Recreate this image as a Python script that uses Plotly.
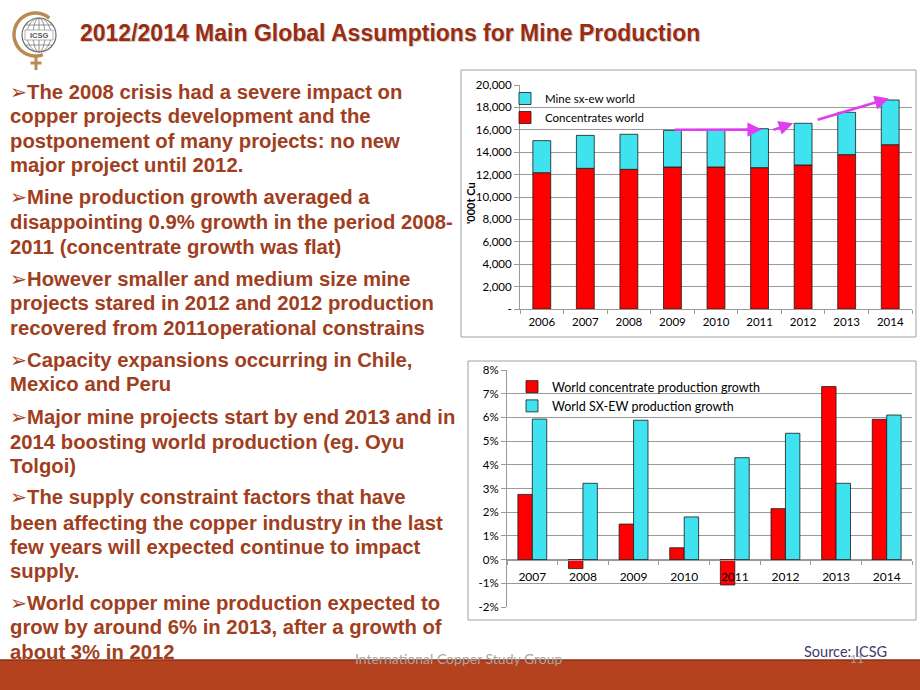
import math
import plotly.graph_objects as go

W, H = 920, 690

def px(x):
    return x / W

def py(y):
    return 1 - y / H

# ---------------- data ----------------
years_prod = ["2006", "2007", "2008", "2009", "2010", "2011", "2012", "2013", "2014"]
concentrates_world = [12170, 12560, 12470, 12680, 12680, 12620, 12860, 13780, 14670]
sxew_world = [2860, 2940, 3130, 3270, 3300, 3480, 3720, 3780, 3990]
prod_ticks = [0, 2000, 4000, 6000, 8000, 10000, 12000, 14000, 16000, 18000, 20000]
prod_ticktext = ["-", "2,000", "4,000", "6,000", "8,000", "10,000", "12,000",
                 "14,000", "16,000", "18,000", "20,000"]

years_growth = ["2007", "2008", "2009", "2010", "2011", "2012", "2013", "2014"]
conc_growth = [2.75, -0.38, 1.5, 0.5, -1.07, 2.15, 7.3, 5.92]
sxew_growth = [5.93, 3.22, 5.88, 1.8, 4.3, 5.33, 3.22, 6.1]
growth_ticks = [-2, -1, 0, 1, 2, 3, 4, 5, 6, 7, 8]
growth_ticktext = ["-2%", "-1%", "0%", "1%", "2%", "3%", "4%", "5%", "6%", "7%", "8%"]

# arrows on production chart: (tail idx, tail value, head idx, head value)
trend_arrows = [(3.02, 16000, 5.05, 16020),
                (5.28, 15950, 5.77, 16580),
                (6.30, 16850, 7.97, 18800)]

text_lines = [
    ("➢The 2008 crisis had a severe impact on", 92),
    ("copper projects development and the", 116),
    ("postponement of many projects: no new", 141),
    ("major project until 2012.", 165),
    ("➢Mine production growth averaged a", 197),
    ("disappointing 0.9% growth in the period 2008-", 222),
    ("2011 (concentrate growth was flat)", 247),
    ("➢However smaller and medium size mine", 279),
    ("projects stared in 2012 and 2012 production", 303),
    ("recovered from 2011operational constrains", 328),
    ("➢Capacity expansions occurring in Chile,", 360),
    ("Mexico and Peru", 384),
    ("➢Major mine projects start by end 2013 and in", 417),
    ("2014 boosting world production (eg. Oyu", 442),
    ("Tolgoi)", 466),
    ("➢The supply constraint factors that have", 497),
    ("been affecting the copper industry in the last", 523),
    ("few years will expected continue to impact", 547),
    ("supply.", 571),
    ("➢World copper mine production expected to", 603),
    ("grow by around 6% in 2013, after a growth of", 627),
    ("about 3% in 2012", 652),
]

RED = "#FF0000"
CYAN = "#3FE3F0"
GRID = "#9A9A9A"
CHART_FONT = "Lato"
TEXT_COL = "#A03E20"

fig = go.Figure()

# ---- top chart: stacked production ----
fig.add_trace(go.Bar(
    x=years_prod, y=concentrates_world, name="Concentrates world",
    marker=dict(color=RED, line=dict(color="#1a1a1a", width=0.8)),
    width=0.41, offset=-0.205, xaxis="x", yaxis="y", legend="legend",
    legendrank=2))
fig.add_trace(go.Bar(
    x=years_prod, y=sxew_world, base=concentrates_world, name="Mine sx-ew world",
    marker=dict(color=CYAN, line=dict(color="#1a1a1a", width=0.8)),
    width=0.41, offset=-0.205, xaxis="x", yaxis="y", legend="legend",
    legendrank=1))

# ---- bottom chart: growth ----
fig.add_trace(go.Bar(
    x=years_growth, y=conc_growth, name="World concentrate production growth",
    marker=dict(color=RED, line=dict(color="#1a1a1a", width=0.8)),
    width=0.285, offset=-0.285, xaxis="x2", yaxis="y2", legend="legend2"))
fig.add_trace(go.Bar(
    x=years_growth, y=sxew_growth, name="World SX-EW production growth",
    marker=dict(color=CYAN, line=dict(color="#1a1a1a", width=0.8)),
    width=0.285, offset=0.0, xaxis="x2", yaxis="y2", legend="legend2"))

g_range = [-2, 8]
g_dom = [py(607), py(370)]
zero_pos = g_dom[0] + (0 - g_range[0]) / (g_range[1] - g_range[0]) * (g_dom[1] - g_dom[0])

axis_common = dict(showline=True, linecolor=GRID, linewidth=1, ticks="outside",
                   tickcolor=GRID, ticklen=5, automargin=False)

fig.update_layout(
    width=W, height=H, margin=dict(l=0, r=0, t=0, b=0, pad=0, autoexpand=False),
    paper_bgcolor="white", plot_bgcolor="white",
    barmode="overlay", showlegend=True,
    font=dict(family=CHART_FONT, color="#000000"),
    xaxis=dict(domain=[px(520), px(912)], anchor="y", type="category",
               range=[-0.5, 8.5], tickson="boundaries", showgrid=False,
               tickfont=dict(size=11.5, family=CHART_FONT, color="#000"),
               ticklabelstandoff=2, **{**axis_common, "ticklen": 4}),
    yaxis=dict(domain=[py(309), py(85)], anchor="x", range=[0, 20000],
               tickvals=prod_ticks, ticktext=prod_ticktext, showgrid=True,
               gridcolor=GRID, gridwidth=1, zeroline=False,
               tickfont=dict(size=11.5, family=CHART_FONT, color="#000"),
               **axis_common),
    xaxis2=dict(domain=[px(507), px(912)], anchor="free", position=zero_pos,
                type="category", range=[-0.5, 7.5], tickson="boundaries",
                showgrid=False, ticklabelstandoff=6,
                tickfont=dict(size=12, family=CHART_FONT, color="#000"),
                **{**axis_common, "ticklen": 4}),
    yaxis2=dict(domain=g_dom, anchor="x2", range=g_range, tickvals=growth_ticks,
                ticktext=growth_ticktext, showgrid=True, gridcolor=GRID, gridwidth=1,
                zeroline=False,
                tickfont=dict(size=11.5, family=CHART_FONT, color="#000"),
                **axis_common),
    legend=dict(x=px(505), y=py(84), xanchor="left", yanchor="top",
                bgcolor="rgba(0,0,0,0)", borderwidth=0, traceorder="normal",
                itemwidth=30,
                font=dict(size=11.5, family=CHART_FONT, color="#000")),
    legend2=dict(x=px(512), y=py(372), xanchor="left", yanchor="top",
                 bgcolor="rgba(0,0,0,0)", borderwidth=0, traceorder="normal",
                 itemwidth=30,
                 font=dict(size=12.5, family=CHART_FONT, color="#000")),
)

shapes = []
# chart frames
shapes.append(dict(type="rect", xref="paper", yref="paper", x0=px(461), x1=px(916),
                   y0=py(337), y1=py(70), line=dict(color="#A0A0A0", width=1)))
shapes.append(dict(type="rect", xref="paper", yref="paper", x0=px(468), x1=px(916),
                   y0=py(620), y1=py(361), line=dict(color="#A0A0A0", width=1)))
# white areas behind legends (cover gridlines)
shapes.append(dict(type="rect", xref="paper", yref="paper", x0=px(521), x1=px(647),
                   y0=py(125), y1=py(88), fillcolor="white", line=dict(width=0),
                   layer="between"))
shapes.append(dict(type="rect", xref="paper", yref="paper", x0=px(508), x1=px(790),
                   y0=py(410), y1=py(373), fillcolor="white", line=dict(width=0),
                   layer="between"))
# bottom band
shapes.append(dict(type="rect", xref="paper", yref="paper", x0=0, x1=1,
                   y0=0, y1=py(660), fillcolor="#B4421E", line=dict(width=0),
                   layer="below"))
shapes.append(dict(type="line", xref="paper", yref="paper", x0=0, x1=1,
                   y0=py(660), y1=py(660), line=dict(color="#8E3014", width=1.5)))

# logo: copper "C" arc
cx, cy, r = 35.5, 34.5, 21.5
arc_pts = [(cx + r * math.cos(math.radians(a)), cy - r * math.sin(math.radians(a)))
           for a in [50 + k * (240 / 60) for k in range(61)]]
path = "M " + " L ".join(f"{px(x):.5f},{py(y):.5f}" for x, y in arc_pts)
shapes.append(dict(type="path", xref="paper", yref="paper", path=path,
                   line=dict(color="#B98A52", width=3.5)))
# globe
gx, gy, gr = 39, 35, 17
shapes.append(dict(type="circle", xref="paper", yref="paper", x0=px(gx - gr), x1=px(gx + gr),
                   y0=py(gy + gr), y1=py(gy - gr), line=dict(color="#6E6E6E", width=1.2),
                   fillcolor="white"))
for rx in (6, 12):
    shapes.append(dict(type="circle", xref="paper", yref="paper", x0=px(gx - rx), x1=px(gx + rx),
                       y0=py(gy + gr), y1=py(gy - gr), line=dict(color="#7A7A7A", width=0.8)))
shapes.append(dict(type="line", xref="paper", yref="paper", x0=px(gx), x1=px(gx),
                   y0=py(gy + gr), y1=py(gy - gr), line=dict(color="#7A7A7A", width=0.8)))
for dy, half in ((-10, 13.5), (10, 13.5)):
    shapes.append(dict(type="line", xref="paper", yref="paper", x0=px(gx - half), x1=px(gx + half),
                       y0=py(gy + dy), y1=py(gy + dy), line=dict(color="#7A7A7A", width=0.8)))
shapes.append(dict(type="rect", xref="paper", yref="paper", x0=px(25), x1=px(53),
                   y0=py(40), y1=py(30), fillcolor="white", line=dict(color="#7A7A7A", width=0.6)))
# venus cross
shapes.append(dict(type="line", xref="paper", yref="paper", x0=px(36), x1=px(36),
                   y0=py(56), y1=py(70), line=dict(color="#B98A52", width=3)))
shapes.append(dict(type="line", xref="paper", yref="paper", x0=px(30.5), x1=px(41.5),
                   y0=py(63), y1=py(63), line=dict(color="#B98A52", width=3)))
fig.update_layout(shapes=shapes)

ann = []
# title with shadow
title = "2012/2014 Main Global Assumptions for Mine Production"
ann.append(dict(text=title, xref="paper", yref="paper", x=px(79.3), y=py(34.3),
                xanchor="left", yanchor="middle", showarrow=False,
                font=dict(family="Liberation Sans", size=23, color="#D2CCC8", weight="bold")))
ann.append(dict(text=title, xref="paper", yref="paper", x=px(78), y=py(33),
                xanchor="left", yanchor="middle", showarrow=False,
                font=dict(family="Liberation Sans", size=23, color="#9A2C12", weight="bold")))
ann.append(dict(text="ICSG", xref="paper", yref="paper", x=px(39), y=py(35),
                xanchor="center", yanchor="middle", showarrow=False,
                font=dict(family="Liberation Sans", size=7.5, color="#555", weight="bold")))
# body text
for t, yy in text_lines:
    ann.append(dict(text=t, xref="paper", yref="paper", x=px(8), y=py(yy),
                    xanchor="left", yanchor="middle", showarrow=False,
                    font=dict(family="Liberation Sans, DejaVu Sans", size=20.3,
                              color=TEXT_COL, weight="bold")))
# y-axis title of top chart
ann.append(dict(text="'000t Cu", xref="paper", yref="paper", x=px(471), y=py(203),
                xanchor="center", yanchor="middle", showarrow=False, textangle=-90,
                font=dict(family=CHART_FONT, size=11, color="#000", weight="bold")))
# trend arrows
for (x0, y0, x1, y1) in trend_arrows:
    ann.append(dict(x=x1, y=y1, ax=x0, ay=y0, xref="x", yref="y", axref="x", ayref="y",
                    text="", showarrow=True, arrowhead=2, arrowsize=1.1, arrowwidth=2.6,
                    arrowcolor="#E03CF0", standoff=0, startstandoff=0))
# footer
ann.append(dict(text="International Copper Study Group", xref="paper", yref="paper",
                x=px(459), y=py(658), xanchor="center", yanchor="middle", showarrow=False,
                font=dict(family=CHART_FONT, size=14, color="#A6A6A6")))
ann.append(dict(text="Source: ICSG", xref="paper", yref="paper",
                x=px(845), y=py(651), xanchor="center", yanchor="middle", showarrow=False,
                font=dict(family=CHART_FONT, size=14.5, color="#3C3C6E")))
ann.append(dict(text="11", xref="paper", yref="paper",
                x=px(857), y=py(658), xanchor="center", yanchor="middle", showarrow=False,
                font=dict(family=CHART_FONT, size=12, color="#A6A6A6")))
fig.update_layout(annotations=ann)

fig.write_html("out.html", config={"displayModeBar": False},
               post_script="document.body.style.margin='0px';")
